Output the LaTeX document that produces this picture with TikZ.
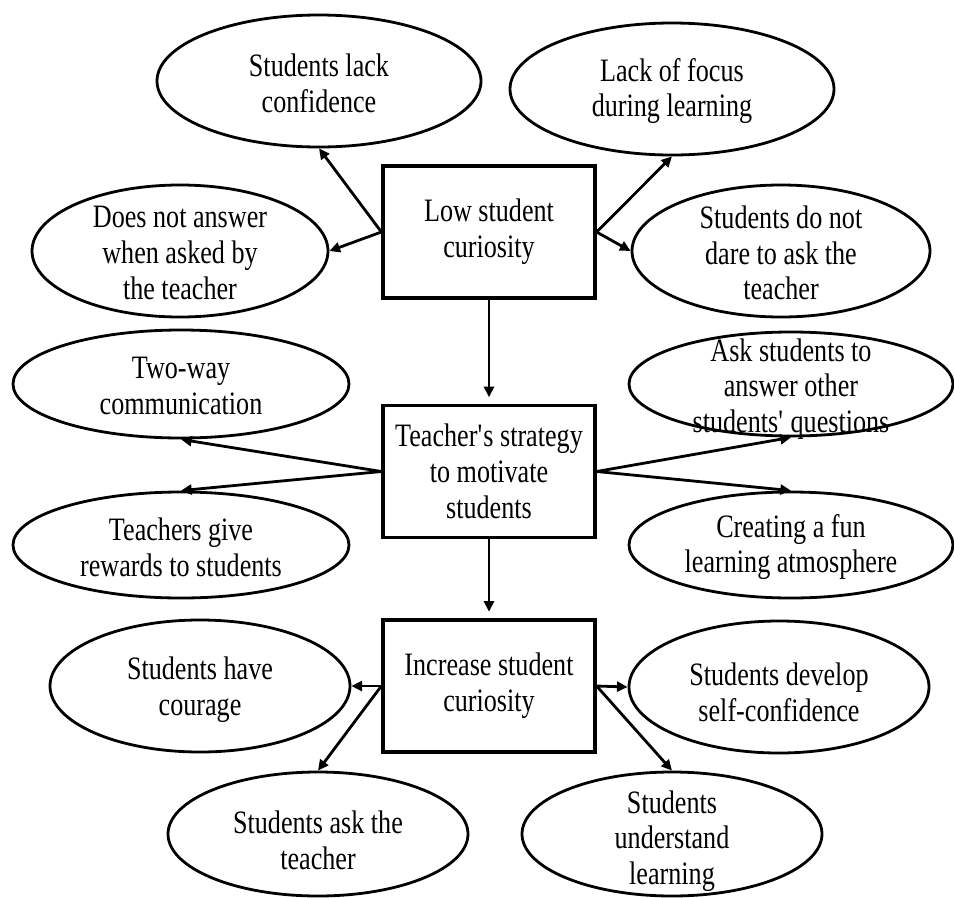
\documentclass[tikz,border=0pt]{standalone}
\usepackage{fontspec}
\setmainfont[FakeStretch=0.8]{Liberation Serif}
\usetikzlibrary{shapes.geometric,arrows.meta}
\tikzset{
  ell/.style n args={2}{draw, ellipse, line width=2.1pt, inner sep=0pt,
    minimum width=#1*0.75pt, minimum height=#2*0.75pt},
  boxnode/.style={draw, rectangle, line width=2.4pt, inner sep=0pt,
    minimum width=212*0.75pt, minimum height=132*0.75pt,
    align=center, font=\fontsize{24.5}{26.8}\selectfont},
  txt/.style={align=center, inner sep=0pt, font=\fontsize{24.5}{26.8}\selectfont},
  arr/.style={line width=2.1pt, -{Triangle[length=8pt,width=7.5pt]}}
}
\begin{document}
\begin{tikzpicture}[x=0.75pt,y=-0.75pt]
\useasboundingbox (0,0) rectangle (954,897);
% boxes
\node[boxnode] (b1) at (489,232) {Low student\\curiosity};
\node[boxnode] (b2) at (489,471.5) {Teacher\textquotesingle s strategy\\to motivate\\students};
\node[boxnode] (b3) at (489,686) {Increase student\\curiosity};
% ellipses
\node[ell={324}{132}] (e1) at (319,81) {};
\node[txt] (t1) at (319,83) {Students lack\\confidence};
\node[ell={296}{132}] (e2) at (180,251) {};
\node[txt] (t2) at (180,253) {Does not answer\\when asked by\\the teacher};
\node[ell={324}{132}] (e3) at (672,89) {};
\node[txt] (t3) at (672,91) {Lack of focus\\during learning};
\node[ell={298}{132}] (e4) at (781,251) {};
\node[txt] (t4) at (781,253) {Students do not\\dare to ask the\\teacher};
\node[ell={336}{108}] (e5) at (181,384) {};
\node[txt] (t5) at (181,386) {Two-way\\communication};
\node[ell={336}{106}] (e6) at (181,545) {};
\node[txt] (t6) at (181,547) {Teachers give\\rewards to students};
\node[ell={324}{104}] (e7) at (791,384) {};
\node[txt] (t7) at (791,389) {Ask students to\\answer other\\students\textquotesingle\ questions};
\node[ell={324}{106}] (e8) at (791,545) {};
\node[txt] (t8) at (791,547) {Creating a fun\\learning atmosphere};
\node[ell={300}{132}] (e9) at (200,686) {};
\node[txt] (t9) at (200,690) {Students have\\courage};
\node[ell={300}{124}] (e10) at (318,834) {};
\node[txt] (t10) at (318,840) {Students ask the\\teacher};
\node[ell={300}{132}] (e11) at (779,687) {};
\node[txt] (t11) at (779,692) {Students develop\\self-confidence};
\node[ell={300}{124}] (e12) at (672,834) {};
\node[txt] (t12) at (672,841) {Students\\understand\\learning};
% connectors
\draw[arr] (b1.west) -- (e1.south);
\draw[arr] (b1.west) -- (e2.east);
\draw[arr] (b1.east) -- (e3.south);
\draw[arr] (b1.east) -- (e4.west);
\draw[arr, shorten >=5pt] (b1.south) -- (b2.north);
\draw[arr] (b2.west) -- (e5.south);
\draw[arr] (b2.west) -- (e6.north);
\draw[arr] (b2.east) -- (e7.south);
\draw[arr] (b2.east) -- (e8.north);
\draw[arr, shorten >=5pt] (b2.south) -- (b3.north);
\draw[arr] (b3.west) -- (e9.east);
\draw[arr] (b3.west) -- (e10.north);
\draw[arr] (b3.east) -- (e11.west);
\draw[arr] (b3.east) -- (e12.north);
\end{tikzpicture}
\end{document}
